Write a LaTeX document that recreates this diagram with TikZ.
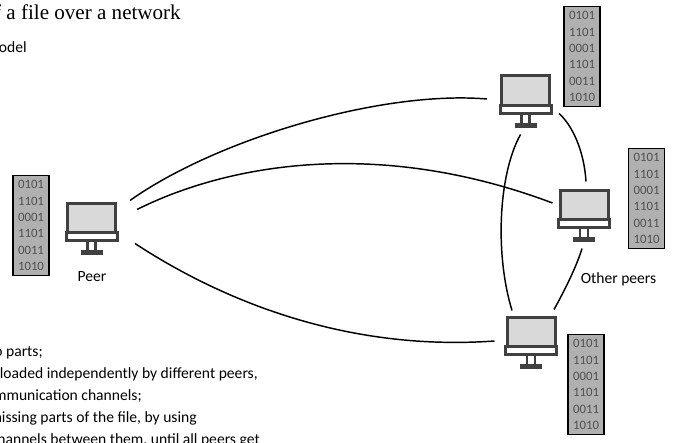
\documentclass[tikz,border=0pt]{standalone}
\usepackage{fontspec}
\setmainfont{Carlito}
\newfontfamily\titlefont{Liberation Serif}
\usetikzlibrary{calc}
\definecolor{framegray}{HTML}{404040}
\definecolor{screengray}{HTML}{D9D9D9}
\definecolor{datagray}{HTML}{B0B0B0}
\definecolor{digitgray}{HTML}{505050}
\tikzset{
	monitor/.style={draw=framegray,fill=screengray,line width=2.25pt,minimum width=36pt,minimum height=27pt,inner sep=0pt},
	frame/.style={draw=framegray,line width=2.25pt},
	stand/.style={draw=framegray,line width=1.9pt},
	foot/.style={draw=framegray,line width=3.2pt},
	link/.style={draw=black,line width=1.1pt},
	databox/.style={draw=black,line width=.8pt,fill=datagray,text=digitgray,font=\fontsize{9.6}{12.2}\selectfont,align=center,minimum width=27pt,minimum height=75.5pt,inner sep=0pt},
	label/.style={anchor=base,inner sep=0pt,font=\fontsize{11.7}{13}\selectfont},
	textline/.style={anchor=base east,inner sep=0pt,font=\fontsize{11.7}{13}\selectfont}
}
\newcommand{\monitornode}[2]{
	\node[monitor] (#1) at (#2) {};
	\draw[frame,fill=white] ([shift={(0,-8)}]#1.south west) rectangle (#1.south east);
	\draw[stand] ([shift={(-4,0)}]#1.south) -- ([shift={(-4,11)}]#1.south);
	\draw[stand] ([shift={(4,0)}]#1.south) -- ([shift={(4,11)}]#1.south);
	\draw[foot] ([shift={(-11,12)}]#1.south) -- ([shift={(11,12)}]#1.south);
}
\newcommand{\bits}{0101\\1101\\0001\\1101\\0011\\1010}
\begin{document}
\begin{tikzpicture}[x=.75pt,y=-.75pt]
	\useasboundingbox (0,0) rectangle (680,442);
	%
	\node[anchor=base east,inner sep=0pt,font=\titlefont\fontsize{15.8}{18}\selectfont] (title) at (181,20) {f a file over a network};
	\node[textline] (model) at (27,53) {odel};
	\node[textline] (line1) at (43,356) {o parts;};
	\node[textline] (line2) at (258,378) {nloaded independently by different peers,};
	\node[textline] (line3) at (142,400) {mmunication channels;};
	\node[textline] (line4) at (197,422) {nissing parts of the file, by using};
	\node[textline] (line5) at (260,444) {hannels between them, until all peers get};
	%
	\monitornode{peer}{91.5,221}
	\monitornode{top}{525.5,94}
	\monitornode{right}{584,208}
	\monitornode{bottom}{531,335}
	%
	\node[databox] (peerdata) at (31,225.5) {\bits};
	\node[databox] (topdata) at (582,56.5) {\bits};
	\node[databox] (rightdata) at (646.5,198.5) {\bits};
	\node[databox] (bottomdata) at (586,384.5) {\bits};
	%
	\node[label] (peerlabel) at (92,281) {Peer};
	\node[label] (otherlabel) at (618.5,283) {Other peers};
	%
	\path[link]
		([shift={(13,-1)}]peer.north east) .. controls (215,140) and (380,90) .. ([shift={(-13,5)}]top.west)
		([shift={(20,8)}]peer.north east) .. controls (230,163) and (380,138) .. ([shift={(-6,-5)}]right.west)
		([shift={(18,3)}]peer.south east) .. controls (215,296) and (340,352) .. ([shift={(-11,6)}]bottom.west)
		([shift={(-5,21)}]top.south) .. controls (498,175) and (495,255) .. ([shift={(-19,-5)}]bottom.north)
		([shift={(8,0)}]top.south east) .. controls (572,125) and (584,150) .. ([shift={(2,-7)}]right.north)
		([shift={(-2,21)}]right.south) .. controls (577,265) and (566,288) .. ([shift={(23,-6)}]bottom.north);
\end{tikzpicture}
\end{document}
